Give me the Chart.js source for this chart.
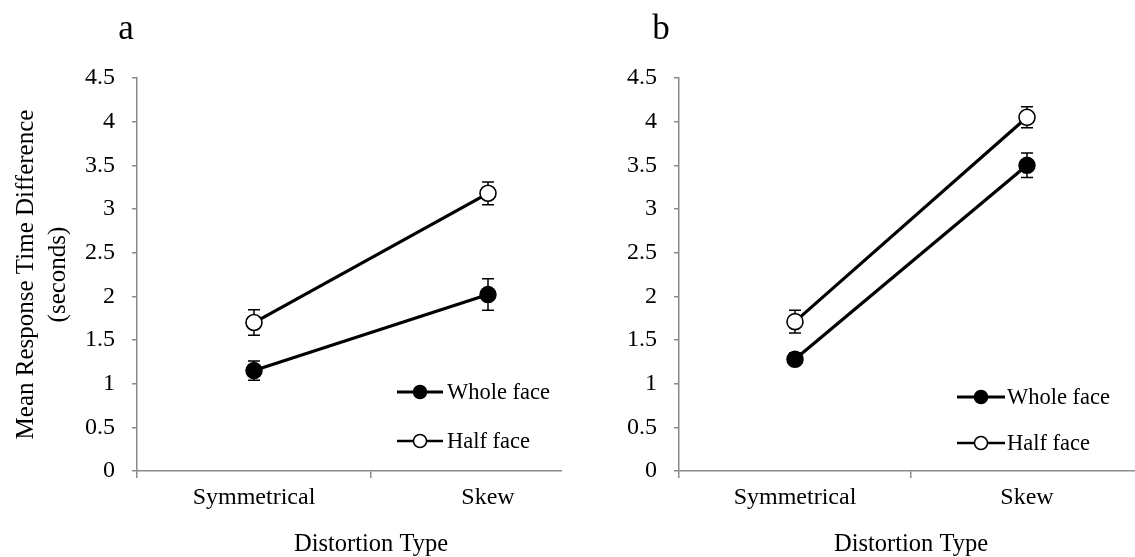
<!DOCTYPE html>
<html><head><meta charset="utf-8">
<script src="https://cdn.jsdelivr.net/npm/chart.js@4/dist/chart.umd.min.js"></script>
<style>
html,body{margin:0;padding:0;background:#fff;overflow:hidden;width:1135px;height:557px;}
.panel{position:absolute;top:0;height:557px;overflow:hidden;}
.letter{position:absolute;font-family:'Liberation Serif',serif;font-size:35px;color:#000;transform:translate(-50%,-50%);line-height:1;}
</style></head>
<body>
<div class="panel" style="left:0;width:562px"><canvas id="ca" width="620" height="557" style="width:620px;height:557px"></canvas></div>
<div class="panel" style="left:566px;width:569px"><canvas id="cb" width="590" height="557" style="width:590px;height:557px"></canvas></div>
<div class="letter" style="left:126px;top:27px">a</div>
<div class="letter" style="left:661px;top:27px">b</div>
<script>
// ---- data ----
const categories = ['Symmetrical', 'Skew'];
const seriesNames = ['Whole face', 'Half face'];
const yTickLabels = ['0', '0.5', '1', '1.5', '2', '2.5', '3', '3.5', '4', '4.5'];
const panelLetters = ['a', 'b'];
const yTitleLines = ['Mean Response Time Difference', '(seconds)'];
const xTitle = 'Distortion Type';

const wholeA = [1.15, 2.02];
const wholeAErr = [0.11, 0.18];
const halfA = [1.70, 3.18];
const halfAErr = [0.145, 0.13];

const wholeB = [1.28, 3.50];
const wholeBErr = [0.07, 0.14];
const halfB = [1.71, 4.05];
const halfBErr = [0.13, 0.12];

// ---- plugins ----
const errorBarPlugin = {
  id: 'errorBars',
  beforeDatasetsDraw(chart) {
    const ctx = chart.ctx;
    const xs = chart.scales.x, ys = chart.scales.y;
    ctx.save();
    ctx.strokeStyle = '#000';
    ctx.lineWidth = 1.5;
    chart.data.datasets.forEach(ds => {
      ds.data.forEach((v, i) => {
        const e = ds.errors[i];
        const x = xs.getPixelForValue(i);
        const yt = ys.getPixelForValue(v + e);
        const yb = ys.getPixelForValue(v - e);
        ctx.beginPath();
        ctx.moveTo(x, yt); ctx.lineTo(x, yb);
        ctx.moveTo(x - 6, yt); ctx.lineTo(x + 6, yt);
        ctx.moveTo(x - 6, yb); ctx.lineTo(x + 6, yb);
        ctx.stroke();
      });
    });
    ctx.restore();
  }
};

const lineLegendPlugin = {
  id: 'lineLegend',
  afterDraw(chart, args, o) {
    const ctx = chart.ctx;
    ctx.save();
    chart.data.datasets.forEach((ds, k) => {
      const y = o.rows[k];
      ctx.strokeStyle = '#000';
      ctx.lineWidth = k === 0 ? 3.2 : 2.6;
      ctx.beginPath();
      ctx.moveTo(o.x0, y); ctx.lineTo(o.x1, y);
      ctx.stroke();
      ctx.beginPath();
      ctx.arc((o.x0 + o.x1) / 2, y, 6.5, 0, Math.PI * 2);
      ctx.fillStyle = ds.pointBackgroundColor;
      ctx.fill();
      ctx.lineWidth = 1.5;
      ctx.stroke();
      ctx.fillStyle = '#000';
      ctx.font = '22.5px "Liberation Serif"';
      ctx.textBaseline = 'middle';
      ctx.textAlign = 'left';
      ctx.fillText(ds.label, o.textX, y + 1);
    });
    ctx.restore();
  }
};

function makeChart(id, whole, wholeErr, half, halfErr, yWidth, padRight, legend, showYTitle) {
  const axisColor = '#8a8a8a';
  return new Chart(document.getElementById(id), {
    type: 'line',
    data: {
      labels: categories,
      datasets: [
        { label: seriesNames[0], data: whole, errors: wholeErr,
          borderColor: '#000', borderWidth: 3.2, pointRadius: 8, pointHoverRadius: 8,
          pointBackgroundColor: '#000', pointBorderColor: '#000', pointBorderWidth: 1.5 },
        { label: seriesNames[1], data: half, errors: halfErr,
          borderColor: '#000', borderWidth: 3.2, pointRadius: 8, pointHoverRadius: 8,
          pointBackgroundColor: '#fff', pointBorderColor: '#000', pointBorderWidth: 1.6 }
      ]
    },
    options: {
      responsive: false,
      animation: false,
      events: [],
      layout: { padding: { top: 78, right: padRight, bottom: 0, left: 0 } },
      plugins: {
        legend: { display: false },
        tooltip: { enabled: false },
        lineLegend: legend
      },
      scales: {
        x: {
          type: 'category',
          offset: true,
          afterFit: s => { s.height = 86; },
          grid: { offset: true, display: true, drawOnChartArea: false, drawTicks: true, tickLength: 7, color: axisColor, lineWidth: 1.5 },
          border: { display: true, color: axisColor, width: 1.5 },
          ticks: { color: '#000', font: { family: 'Liberation Serif', size: 24 }, padding: 5, maxRotation: 0 },
          title: { display: true, text: xTitle, color: '#000', font: { family: 'Liberation Serif', size: 24.5, lineHeight: 1 }, padding: { top: 0, bottom: 0 } }
        },
        y: {
          min: 0, max: 4.5,
          afterFit: s => { s.width = yWidth; },
          ticks: { stepSize: 0.5, color: '#000', font: { family: 'Liberation Serif', size: 24 }, padding: 17,
                   callback: (v, i) => yTickLabels[i] },
          grid: { display: true, drawOnChartArea: false, drawTicks: true, tickLength: 5, color: axisColor, lineWidth: 1.5 },
          border: { display: true, color: axisColor, width: 1.5 },
          title: { display: showYTitle, text: yTitleLines, color: '#000', font: { family: 'Liberation Serif', size: 25, lineHeight: 1.3 }, padding: { top: 10, bottom: 0 } }
        }
      }
    },
    plugins: [errorBarPlugin, lineLegendPlugin]
  });
}

makeChart('ca', wholeA, wholeAErr, halfA, halfAErr, 137, 15,
  { x0: 397, x1: 443, textX: 447, rows: [392, 441] }, true);
makeChart('cb', wholeB, wholeBErr, halfB, halfBErr, 113, 13,
  { x0: 957 - 566, x1: 1005 - 566, textX: 1007 - 566, rows: [397, 443] }, false);
</script>
</body></html>
